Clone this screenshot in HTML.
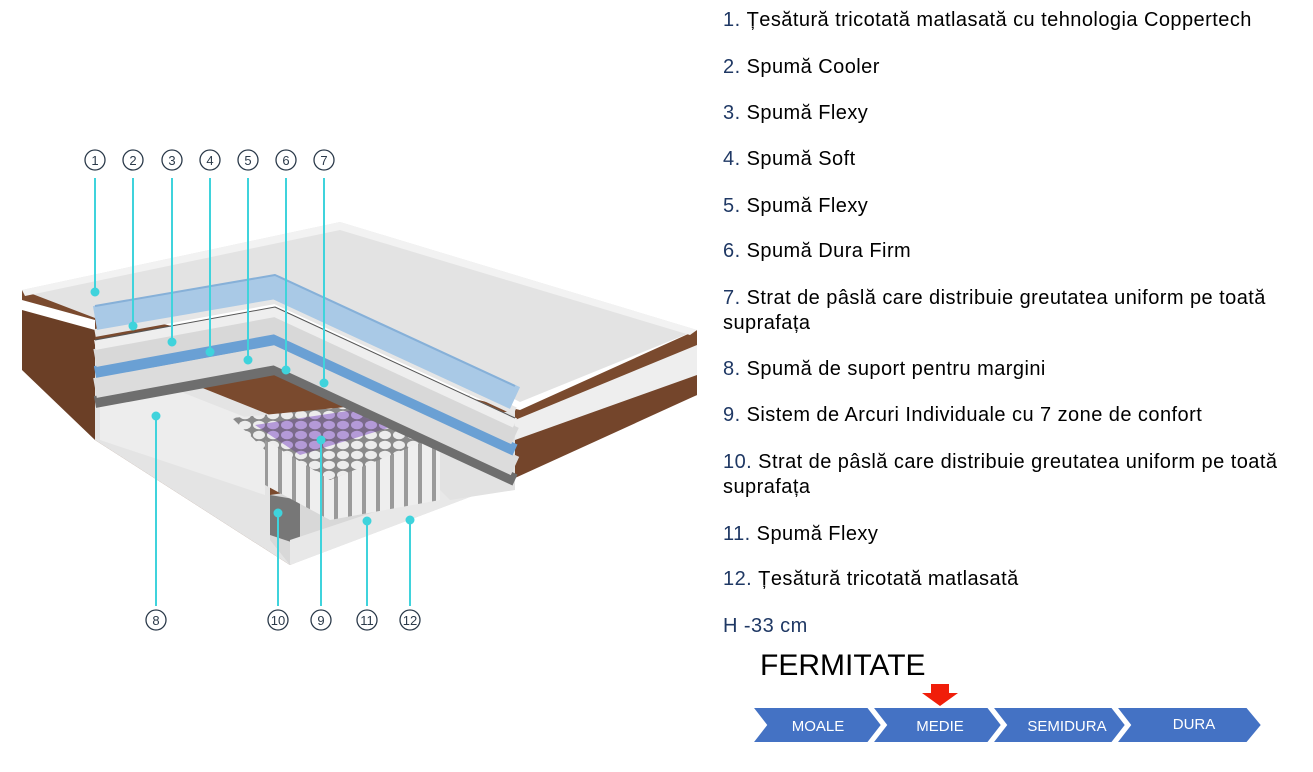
<!DOCTYPE html>
<html><head><meta charset="utf-8"><style>
body{margin:0;width:1313px;height:772px;background:#fff;overflow:hidden;position:relative;font-family:"Liberation Sans",sans-serif}
.t{position:absolute;left:723px;font-size:20px;letter-spacing:0.45px;color:#000;line-height:25px;width:560px}
.t b{font-weight:normal;color:#1f3864}
</style></head><body>
<svg width="1313" height="772" style="position:absolute;left:0;top:0">
<defs>
<pattern id="sp" width="14" height="10" patternUnits="userSpaceOnUse"><rect width="14" height="10" fill="#8a8a8a"/><ellipse cx="7" cy="5" rx="6" ry="4.3" fill="#ececec"/></pattern>
<pattern id="pp" width="14" height="10" patternUnits="userSpaceOnUse"><rect width="14" height="10" fill="#7a6a8a"/><ellipse cx="7" cy="5" rx="6" ry="4.3" fill="#b49ad8"/></pattern>
<pattern id="col" width="14" height="80" patternUnits="userSpaceOnUse"><rect width="14" height="80" fill="#9a9a9a"/><rect x="2" width="10" height="80" fill="#eeeeee"/></pattern>
</defs>
<polygon points="22,300 95,320 95,440 290,565 515,470 697,395 697,330 520,410 22,290" fill="#7a4a2e"/>
<polygon points="22,310 95,330 95,440 22,370" fill="#6b3f26"/>
<polygon points="515,420 697,345 697,380 515,450" fill="#eeeeee"/>
<polygon points="515,440 697,375 697,395 515,478" fill="#74452b"/>
<polygon points="95,345 270,415 270,495 290,540 290,565 95,440" fill="#e4e4e4"/>
<polygon points="100,360 265,425 265,495 100,440" fill="#ededed"/>
<polygon points="270,495 440,470 515,470 515,480 290,565 270,540" fill="#d8d8d8"/>
<polygon points="270,495 300,500 300,545 270,535" fill="#777"/>
<polygon points="290,540 515,465 515,480 290,565" fill="#e8e8e8"/>
<polygon points="232,418 470,395 470,425 330,480 265,450" fill="url(#sp)"/>
<polygon points="255,425 420,400 440,412 300,455" fill="url(#pp)"/>
<polygon points="265,440 330,480 330,520 265,485" fill="url(#col)"/>
<polygon points="330,480 440,435 440,500 330,520" fill="url(#col)"/>
<polygon points="440,425 515,410 515,490 450,500 440,490" fill="#e2e2e2"/>
<polygon points="22,290 340,222 697,330 520,402 285,283 95,318" fill="#e3e3e3"/>
<polygon points="22,290 340,222 697,330 690,335 340,230 25,296" fill="#f2f2f2"/>
<g fill="none" stroke-linejoin="round">
<polyline points="95,402 275,369 515,480" stroke="#6e6e6e" stroke-width="12"/>
<polyline points="95,388 275,355 515,466" stroke="#dcdcdc" stroke-width="20"/>
<polyline points="95,372 275,339 515,450" stroke="#6aa0d4" stroke-width="12"/>
<polyline points="95,358 275,325 515,436" stroke="#d8d8d8" stroke-width="18"/>
<polyline points="95,345 275,312 515,423" stroke="#eeeeee" stroke-width="10"/>
<polyline points="95,340 275,307 515,418" stroke="#555" stroke-width="1"/>
<polyline points="95,333 275,300 515,411" stroke="#e6e6e6" stroke-width="8"/>
<polyline points="95,318 275,287 515,398" stroke="#a9c9e6" stroke-width="24"/>
<polyline points="95,306 275,275 515,386" stroke="#86b0d8" stroke-width="2"/>
</g>
<g stroke="#3fd3dc" stroke-width="2" fill="#3fd3dc">
<line x1="95" y1="178" x2="95" y2="292"/><circle cx="95" cy="292" r="3.5"/>
<line x1="133" y1="178" x2="133" y2="326"/><circle cx="133" cy="326" r="3.5"/>
<line x1="172" y1="178" x2="172" y2="342"/><circle cx="172" cy="342" r="3.5"/>
<line x1="210" y1="178" x2="210" y2="352"/><circle cx="210" cy="352" r="3.5"/>
<line x1="248" y1="178" x2="248" y2="360"/><circle cx="248" cy="360" r="3.5"/>
<line x1="286" y1="178" x2="286" y2="370"/><circle cx="286" cy="370" r="3.5"/>
<line x1="324" y1="178" x2="324" y2="383"/><circle cx="324" cy="383" r="3.5"/>
<line x1="156" y1="416" x2="156" y2="606"/><circle cx="156" cy="416" r="3.5"/>
<line x1="278" y1="513" x2="278" y2="606"/><circle cx="278" cy="513" r="3.5"/>
<line x1="321" y1="440" x2="321" y2="606"/><circle cx="321" cy="440" r="3.5"/>
<line x1="367" y1="521" x2="367" y2="606"/><circle cx="367" cy="521" r="3.5"/>
<line x1="410" y1="520" x2="410" y2="606"/><circle cx="410" cy="520" r="3.5"/>
</g>
<g fill="#fff" stroke="#2b3a4a" stroke-width="1.3">
<circle cx="95" cy="160" r="10"/><circle cx="133" cy="160" r="10"/><circle cx="172" cy="160" r="10"/><circle cx="210" cy="160" r="10"/><circle cx="248" cy="160" r="10"/><circle cx="286" cy="160" r="10"/><circle cx="324" cy="160" r="10"/>
<circle cx="156" cy="620" r="10"/><circle cx="278" cy="620" r="10"/><circle cx="321" cy="620" r="10"/><circle cx="367" cy="620" r="10"/><circle cx="410" cy="620" r="10"/>
</g>
<g fill="#2b3a4a" font-size="13" text-anchor="middle" font-family="Liberation Sans">
<text x="95" y="165">1</text><text x="133" y="165">2</text><text x="172" y="165">3</text><text x="210" y="165">4</text><text x="248" y="165">5</text><text x="286" y="165">6</text><text x="324" y="165">7</text>
<text x="156" y="625">8</text><text x="278" y="625">10</text><text x="321" y="625">9</text><text x="367" y="625">11</text><text x="410" y="625">12</text>
</g>
<g fill="#4472c4" stroke="#fff" stroke-width="2">
<polygon points="752,707 868,707 882,725 868,743 752,743 766,725"/>
<polygon points="872,707 988,707 1002,725 988,743 872,743 886,725"/>
<polygon points="992,707 1112,707 1126,725 1112,743 992,743 1006,725"/>
<polygon points="1116,707 1247,707 1262,725 1247,743 1116,743 1130,725"/>
</g>
<g fill="#fff" font-size="15" text-anchor="middle" font-family="Liberation Sans">
<text x="818" y="731">MOALE</text><text x="940" y="731">MEDIE</text><text x="1067" y="731">SEMIDURA</text><text x="1194" y="729">DURA</text>
</g>
<polygon points="931,684 949,684 949,693 958,693 940,706 922,693 931,693" fill="#f01e0a"/>
<text x="760" y="675" font-size="30" font-family="Liberation Sans" fill="#000">FERMITATE</text>
</svg>
<div class="t" style="top:8px"><b>1.</b> Țesătură tricotată matlasată cu tehnologia Coppertech</div>
<div class="t" style="top:55px"><b>2.</b> Spumă Cooler</div>
<div class="t" style="top:101px"><b>3.</b> Spumă Flexy</div>
<div class="t" style="top:147px"><b>4.</b> Spumă Soft</div>
<div class="t" style="top:194px"><b>5.</b> Spumă Flexy</div>
<div class="t" style="top:239px"><b>6.</b> Spumă Dura Firm</div>
<div class="t" style="top:286px"><b>7.</b> Strat de pâslă care distribuie greutatea uniform pe toată<br>suprafața</div>
<div class="t" style="top:357px"><b>8.</b> Spumă de suport pentru margini</div>
<div class="t" style="top:403px"><b>9.</b> Sistem de Arcuri Individuale cu 7 zone de confort</div>
<div class="t" style="top:450px"><b>10.</b> Strat de pâslă care distribuie greutatea uniform pe toată<br>suprafața</div>
<div class="t" style="top:522px"><b>11.</b> Spumă Flexy</div>
<div class="t" style="top:567px"><b>12.</b> Țesătură tricotată matlasată</div>
<div class="t" style="top:614px"><b>H -33 cm</b></div>
</body></html>
